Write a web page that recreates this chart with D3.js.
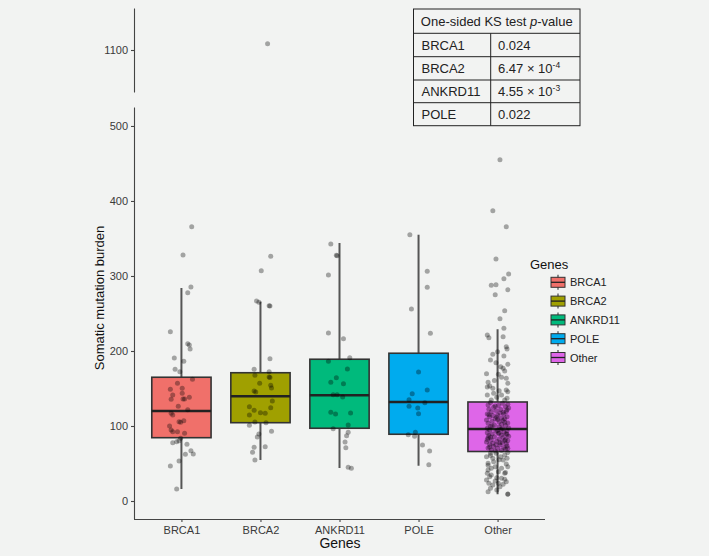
<!DOCTYPE html>
<html><head><meta charset="utf-8">
<script src="https://cdn.jsdelivr.net/npm/d3@7"></script>
<style>
body{margin:0;background:#f2f3f2;}
svg{display:block;font-family:"Liberation Sans",Arial,Helvetica,sans-serif;}
</style>
</head><body>
<svg id="c" width="709" height="556"></svg>
<script>
// ---------- data ----------
const genes = ["BRCA1","BRCA2","ANKRD11","POLE","Other"];
const geneColors = ["#F0706A","#A0A000","#00BA7C","#00ABEE","#DE66E8"];
const q1 = [84.4,104.4,97,89,66];
const median = [120,139.6,141,132,96];
const q3 = [165,171,189,197,132];
const whiskerLow = [16,54.7,44,47,9];
const whiskerHigh = [284,265.8,344,355,229];
const yTicksLower = [0,100,200,300,400,500];
const yTicksUpper = [1100];

// points: [value, horizontal jitter in category units]
const ptsBRCA1 = [[365.7,0.13],[328,0.02],[285.3,0.12],[277.8,0.08],[225.8,-0.14],[209.8,0.08],[208,0.10],[202.7,0.11],
 [190.7,-0.09],[186.2,0.03],[175.6,-0.08],[172.4,-0.02],[162.2,0.14],[156.9,-0.05],[148.9,-0.14],[150.2,0.01],[141.3,-0.11],
 [143.6,0.01],[136,0.02],[136,0.04],[138.2,0.10],[135.6,-0.13],[126.2,-0.04],[121.8,0.08],[117,-0.13],[114.7,-0.11],
 [105.8,-0.03],[104.9,-0.01],[107.1,0.03],[100,-0.15],[94.7,-0.13],[92.4,-0.11],[92.4,-0.05],[90.2,0.04],[83.6,-0.01],
 [80.4,-0.03],[79.1,-0.06],[77.8,-0.11],[75.6,0.07],[67.1,0.12],[62.7,0.15],[62.2,0.05],[53.3,-0.03],[46.7,-0.14],[16,-0.06]];
const ptsBRCA2 = [[1103,0.09],[326.2,0.13],[307.1,0.01],[266.7,-0.05],[264.9,-0.02],[260.4,0.11],[260,0.12],[189.8,0.12],
 [175.6,-0.08],[172.4,0.11],[167.6,-0.07],[165.3,0.11],[164.5,0.12],[156.9,-0.01],[154.2,0.13],[150.7,0.14],[146.7,-0.08],
 [145.3,-0.06],[133.3,0.15],[125.8,-0.14],[124.4,0.13],[120.9,-0.08],[117.8,0.0],[116.9,0.06],[114.7,-0.14],[105.3,-0.07],
 [104.4,0.07],[100.9,-0.14],[92.9,0.14],[89.3,-0.02],[85.3,-0.04],[72.4,0.06],[71.6,-0.08],[64.9,-0.10],[54.7,-0.07]];
const ptsANKRD11 = [[342.7,-0.11],[327.6,-0.04],[327.1,-0.03],[301.3,-0.14],[224,-0.14],[216.4,0.05],[191,0.13],[186.2,-0.14],
 [176,0.10],[164.4,-0.04],[158.2,-0.11],[156.4,0.05],[141.8,-0.08],[141.8,-0.03],[138.7,0.04],[118.2,-0.11],[116,-0.05],
 [117.3,0.14],[101.3,0.11],[96.4,-0.08],[91.6,0.11],[87.1,0.09],[78.7,0.07],[71.1,0.08],[44.9,0.11],[43.6,0.15]];
const ptsPOLE = [[355.1,-0.11],[306.2,0.11],[284.9,0.11],[256,-0.09],[223.6,0.15],[172,0.0],[148,0.11],[143.1,-0.08],
 [135.1,-0.12],[131.1,0.08],[126.2,-0.12],[124,-0.01],[116.4,0.0],[91.6,-0.04],[88.4,-0.13],[86.2,-0.05],[74.7,0.05],
 [66.7,0.14],[48.4,0.13]];
const ptsOther = [[455,0.03],[387,-0.06],[365.8,0.11],[322.7,-0.02],[302.7,0.14],[296.4,0.08],[287.6,-0.08],[288.4,-0.02],
 [281.8,0.13],[275.1,-0.03],[253.8,0.09],[243.1,0.03],[230.2,0.08],[221.3,-0.13],[217.8,-0.11],[219,0.07],[205.8,0.11],
 [202.7,0.12],[195.6,-0.06],[193.3,0.08],[199,0.0],[184.4,-0.02],[182.2,0.13],[179,0.04],[176.9,0.07],[173.3,0.09],
 [169.8,-0.14],[168.9,0.01],[163.6,0.11],[158.2,-0.12],[156.9,0.13],[153.3,-0.10],[150.2,-0.06],[148,0.11],[145.8,0.13],
 [141.3,-0.13],[141.3,0.05],[138.2,-0.01],[134.7,-0.08],[134.7,0.09],[160.5,-0.04],[147,0.02],[137,0.12],[152,-0.13],
 [143.5,-0.05],[165,0.05],[188,-0.09],
 [131.2,-0.09],[130.4,0.06],[128.9,0.13],[128.1,-0.12],[127.2,0.01],[125.6,0.10],[125.1,-0.05],[123.9,0.14],[122.3,-0.11],
 [122.0,0.04],[120.6,-0.02],[119.2,0.11],[119.0,-0.08],[117.4,0.03],[116.1,-0.13],[116.0,0.08],[114.7,0.00],[113.9,-0.06],
 [112.4,0.12],[112.2,-0.10],[110.8,0.05],[109.6,0.09],[109.5,-0.03],[108.1,-0.14],[107.2,0.07],[106.3,-0.07],[105.5,0.02],
 [104.1,0.13],[103.7,-0.12],[102.2,0.05],[101.4,-0.04],[100.6,0.10],[99.3,-0.09],[98.9,0.02],[97.4,0.14],[97.0,-0.13],
 [96.4,0.06],[118.3,0.07],[111.6,-0.01],[105.0,0.09],[126.5,-0.03],[100.1,-0.07],[121.7,0.12],[108.8,0.00],[114.9,-0.11],
 [95.6,0.04],[94.8,-0.10],[93.5,0.12],[93.0,-0.02],[91.8,0.08],[91.1,-0.13],[90.4,0.01],[89.5,0.11],[89.2,-0.07],
 [87.9,0.05],[87.3,-0.11],[86.2,0.14],[85.6,-0.04],[84.5,0.07],[84.3,-0.12],[82.8,0.02],[82.1,0.10],[81.7,-0.08],
 [80.3,0.13],[79.6,-0.01],[78.6,-0.14],[78.1,0.06],[76.9,-0.06],[76.2,0.11],[75.6,-0.10],[74.5,0.03],[73.3,0.12],
 [72.7,-0.05],[71.4,0.08],[70.8,-0.12],[69.9,0.00],[69.3,0.10],[68.1,-0.08],[67.4,0.05],[66.6,-0.03],[90.2,0.02],
 [85.1,-0.09],[80.7,0.09],[74.9,-0.02],[70.3,0.13],[94.1,0.00],[88.6,0.12],[81.9,-0.13],[77.5,0.03],[72.0,-0.10],
 [63.6,-0.09],[61.3,0.09],[56.9,-0.06],[54.7,0.07],[50.2,-0.12],[49.3,0.11],[45.8,-0.03],[43.6,0.05],[36.9,-0.13],
 [34.7,-0.08],[36.9,0.09],[32.4,-0.10],[30.2,0.05],[26.7,-0.03],[25.8,0.11],[23.6,-0.11],[21.3,-0.06],[19.1,0.03],
 [22.2,0.07],[16.9,-0.09],[14.7,-0.01],[9.3,0.13],[41.3,-0.12],[39.1,0.01],[45.8,0.13],[52.4,-0.05],[59.1,0.04],
 [59.1,-0.14],[63.6,-0.02],[56.9,0.12],[43.6,-0.08],[28.9,0.09],[28,-0.14],[23.6,0.01],[12.4,-0.12],[9,0.13],
 [64.5,0.13],[60.5,-0.09],[55,0.02],[47.5,-0.12],[38,0.10],[31,-0.01]];
const pointsByGene = [ptsBRCA1, ptsBRCA2, ptsANKRD11, ptsPOLE, ptsOther];

const tableTitle = "One-sided KS test ";
const tableGenes = ["BRCA1","BRCA2","ANKRD11","POLE"];
const tablePMant = ["0.024","6.47 \u00d7 10","4.55 \u00d7 10","0.022"];
const tablePExp = ["","-4","-3",""];

// ---------- layout ----------
const svg = d3.select("#c");
svg.append("rect").attr("width",709).attr("height",556).attr("fill","#f2f3f2");

const xLeft = 134, xRight = 545;
const x = d3.scalePoint().domain(genes).range([xLeft, xRight]).padding(0.6);
const step = x.step();
const yLow = d3.scaleLinear().domain([-24, 525.3]).range([519, 107]);
const yHigh = d3.scaleLinear().domain([1080, 1120]).range([92, 8]);
const color = d3.scaleOrdinal().domain(genes).range(geneColors);

const axisColor = "#444";
const textColor = "#3a3a3a";

function styleAxis(g){
  g.select(".domain").attr("stroke", axisColor).attr("stroke-width",1.1);
  g.selectAll(".tick line").attr("stroke", axisColor).attr("stroke-width",1.1);
  g.selectAll(".tick text").attr("fill", textColor).attr("font-size", 11)
    .attr("font-family",'"Liberation Sans",Arial,sans-serif');
}
const gyl = svg.append("g").attr("transform",`translate(${xLeft},0)`)
  .call(d3.axisLeft(yLow).tickValues(yTicksLower).tickFormat(d3.format("d")).tickSize(3).tickPadding(3).tickSizeOuter(0));
styleAxis(gyl);
const gyh = svg.append("g").attr("transform",`translate(${xLeft},0)`)
  .call(d3.axisLeft(yHigh).tickValues(yTicksUpper).tickFormat(d3.format("d")).tickSize(3).tickPadding(3).tickSizeOuter(0));
styleAxis(gyh);

const gx = svg.append("g").attr("transform",`translate(0,519)`)
  .call(d3.axisBottom(x).tickSize(3).tickPadding(4).tickSizeOuter(0));
gx.select(".domain").attr("d", `M${xLeft},0.5H${xRight}`);
styleAxis(gx);

svg.append("text").attr("x", 340).attr("y", 548).attr("text-anchor","middle")
  .attr("font-size", 14).attr("fill","#111").text("Genes");
svg.append("text").attr("transform","translate(104,298) rotate(-90)").attr("text-anchor","middle")
  .attr("font-size", 13).attr("fill","#111").text("Somatic mutation burden");

// boxplots
const boxW = step * 0.75;
const bx = svg.append("g");
genes.forEach((g,i)=>{
  const cx = x(g);
  bx.append("line").attr("x1",cx).attr("x2",cx).attr("y1",yLow(whiskerHigh[i])).attr("y2",yLow(q3[i]))
    .attr("stroke","#555").attr("stroke-width",2);
  bx.append("line").attr("x1",cx).attr("x2",cx).attr("y1",yLow(q1[i])).attr("y2",yLow(whiskerLow[i]))
    .attr("stroke","#555").attr("stroke-width",2);
  bx.append("rect").attr("x",cx-boxW/2).attr("width",boxW)
    .attr("y",yLow(q3[i])).attr("height",yLow(q1[i])-yLow(q3[i]))
    .attr("fill",color(g)).attr("stroke","#333").attr("stroke-width",1.6);
  bx.append("line").attr("x1",cx-boxW/2).attr("x2",cx+boxW/2).attr("y1",yLow(median[i])).attr("y2",yLow(median[i]))
    .attr("stroke","#222").attr("stroke-width",2.4);
});

// jittered points
const pg = svg.append("g");
genes.forEach((g,i)=>{
  pointsByGene[i].forEach(([v,j])=>{
    const yy = v > 600 ? yHigh(v) : yLow(v);
    pg.append("circle").attr("cx", x(g) + j*step).attr("cy", yy).attr("r", 2.5)
      .attr("fill","#000").attr("fill-opacity",0.33);
  });
});

// legend
const lg = svg.append("g");
lg.append("text").attr("x",530).attr("y",268.5).attr("font-size",13).attr("fill","#111").text("Genes");
genes.forEach((g,i)=>{
  const cy = 282.3 + i*18.8, kx = 558;
  lg.append("line").attr("x1",kx).attr("x2",kx).attr("y1",cy-7.5).attr("y2",cy+7.5)
    .attr("stroke","#555").attr("stroke-width",1.3);
  lg.append("rect").attr("x",kx-7).attr("y",cy-5).attr("width",14).attr("height",10)
    .attr("fill",color(g)).attr("stroke","#333").attr("stroke-width",1);
  lg.append("line").attr("x1",kx-7).attr("x2",kx+7).attr("y1",cy).attr("y2",cy)
    .attr("stroke","#222").attr("stroke-width",1.3);
  lg.append("text").attr("x",570).attr("y",cy+4).attr("font-size",11).attr("fill","#222").text(g);
});

// table
const tb = svg.append("g");
const tX0 = 413.5, tX1 = 580, tXc = 490.7;
const rowY = [9, 33.3, 56.7, 80, 102.7, 125.7];
tb.append("rect").attr("x",tX0).attr("y",rowY[0]).attr("width",tX1-tX0).attr("height",rowY[5]-rowY[0])
  .attr("fill","#f2f3f2").attr("stroke","#222").attr("stroke-width",1);
rowY.slice(1,5).forEach(yv=>{
  tb.append("line").attr("x1",tX0).attr("x2",tX1).attr("y1",yv).attr("y2",yv).attr("stroke","#222").attr("stroke-width",1);
});
tb.append("line").attr("x1",tXc).attr("x2",tXc).attr("y1",rowY[1]).attr("y2",rowY[5]).attr("stroke","#222").attr("stroke-width",1);
const ht = tb.append("text").attr("x",(tX0+tX1)/2).attr("y",26).attr("text-anchor","middle")
  .attr("font-size",13).attr("fill","#222");
ht.append("tspan").text(tableTitle);
ht.append("tspan").attr("font-style","italic").text("p");
ht.append("tspan").text("-value");
tableGenes.forEach((g,i)=>{
  const yb = (rowY[i+1]+rowY[i+2])/2 + 4.6;
  tb.append("text").attr("x",421.5).attr("y",yb).attr("font-size",13).attr("fill","#222").text(g);
  const t = tb.append("text").attr("x",498).attr("y",yb).attr("font-size",13).attr("fill","#222");
  t.append("tspan").text(tablePMant[i]);
  if (tablePExp[i]) t.append("tspan").attr("dy",-5).attr("font-size",8.5).text(tablePExp[i]);
});
</script>
</body></html>
